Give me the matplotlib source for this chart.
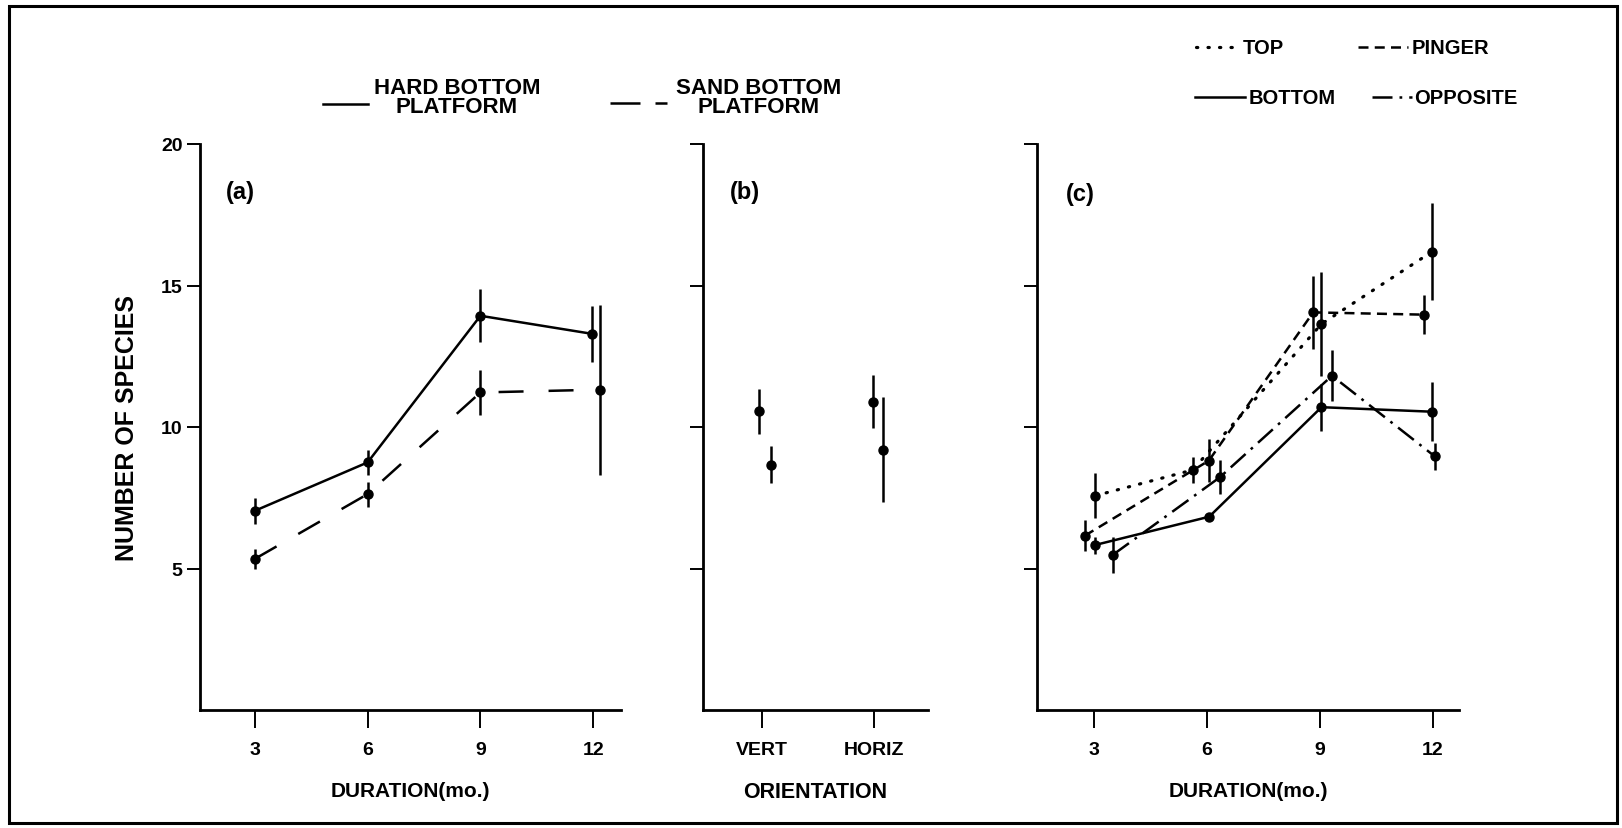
import matplotlib
matplotlib.use("Agg")
import matplotlib.pyplot as plt
from matplotlib.lines import Line2D
from matplotlib.patches import Rectangle

plt.rcParams["font.family"] = ["Liberation Sans", "DejaVu Sans"]
plt.rcParams["font.weight"] = "bold"

# (a) species count vs. duration on the two platforms
dur_ticks = [3, 6, 9, 12]
hard_x = [3.0, 6.0, 9.0, 11.98]
hard_y = [7.04, 8.75, 13.93, 13.29]
hard_err = [0.45, 0.45, 0.93, 1.0]
sand_x = [3.0, 6.0, 9.0, 12.18]
sand_y = [5.34, 7.63, 11.22, 11.32]
sand_err = [0.35, 0.44, 0.8, 3.0]

# (b) orientation
orient_labels = ["VERT", "HORIZ"]
orient_hard_x = [0.97, 1.99]
orient_hard_y = [10.55, 10.89]
orient_hard_err = [0.8, 0.94]
orient_sand_x = [1.08, 2.08]
orient_sand_y = [8.67, 9.2]
orient_sand_err = [0.65, 1.85]

# (c) position on the platform
top_x = [3.03, 5.62, 9.04, 11.98]
top_y = [7.57, 8.48, 13.64, 16.2]
top_err = [0.8, 0.45, 1.85, 1.7]
pinger_x = [2.76, 6.05, 8.82, 11.75]
pinger_y = [6.16, 8.81, 14.05, 13.97]
pinger_err = [0.55, 0.75, 1.3, 0.7]
bottom_x = [3.03, 6.06, 9.04, 11.98]
bottom_y = [5.83, 6.83, 10.7, 10.54]
bottom_err = [0.3, 0.12, 0.83, 1.04]
opp_x = [3.5, 6.34, 9.32, 12.05]
opp_y = [5.48, 8.22, 11.81, 8.96]
opp_err = [0.65, 0.6, 0.9, 0.47]

LW = 1.8
DOT = (0, (0.4, 3.2))
SHORT_DASH = (0, (4, 2.5))
LONG_DASH = (0, (10, 10))
DASH_DOT = (0, (8, 2.8, 1.1, 2.8))

W, H = 1622, 829
fig = plt.figure(figsize=(W / 100, H / 100), dpi=100)


def fx(px):
    return px / W


def fy(py):
    return 1 - py / H


def axes_at(x0, x1):
    return fig.add_axes([fx(x0), fy(711), fx(x1 - x0), fy(145) - fy(711)])


def style(ax):
    for s in ("top", "right"):
        ax.spines[s].set_visible(False)
    for s in ("left", "bottom"):
        ax.spines[s].set_linewidth(2.0)
    ax.set_ylim(0, 20)
    ax.set_yticks([5, 10, 15, 20])
    ax.tick_params(axis="x", direction="out", length=13, width=1.4, pad=9,
                   labelsize=14)
    ax.tick_params(axis="y", direction="out", length=9.5, width=1.4, pad=3,
                   labelsize=14)
    for lab in ax.get_xticklabels() + ax.get_yticklabels():
        lab.set_fontweight("bold")


def series(ax, x, y, err, ls=None, capstyle="butt", lw=LW):
    if ls is not None:
        ln, = ax.plot(x, y, color="black", lw=lw, ls=ls)
        ln.set_dash_capstyle(capstyle)
    ax.errorbar(x, y, yerr=err, fmt="o", ls="none", color="black", ms=6.5,
                elinewidth=1.8, capsize=0)


ax_a = axes_at(200, 621)
ax_b = axes_at(703, 928)
ax_c = axes_at(1037, 1459)

# (a)
series(ax_a, hard_x, hard_y, hard_err, "-")
series(ax_a, sand_x, sand_y, sand_err, LONG_DASH)
ax_a.set_xlim(1.54, 12.74)
ax_a.set_xticks(dur_ticks)
style(ax_a)
ax_a.set_xlabel("DURATION(mo.)", fontsize=15, fontweight="bold", labelpad=17)
ax_a.set_ylabel("NUMBER OF SPECIES", fontsize=18, fontweight="bold",
                labelpad=16)

# (b)
series(ax_b, orient_hard_x, orient_hard_y, orient_hard_err)
series(ax_b, orient_sand_x, orient_sand_y, orient_sand_err)
ax_b.set_xlim(0.47, 2.48)
ax_b.set_xticks([1, 2])
ax_b.set_xticklabels(orient_labels)
style(ax_b)
ax_b.set_yticklabels([])
ax_b.set_xlabel("ORIENTATION", fontsize=15.5, fontweight="bold", labelpad=17)

# (c)
series(ax_c, top_x, top_y, top_err, DOT, "round", lw=2.3)
series(ax_c, pinger_x, pinger_y, pinger_err, SHORT_DASH)
series(ax_c, bottom_x, bottom_y, bottom_err, "-")
series(ax_c, opp_x, opp_y, opp_err, DASH_DOT)
ax_c.set_xlim(1.49, 12.69)
ax_c.set_xticks(dur_ticks)
style(ax_c)
ax_c.set_yticklabels([])
ax_c.set_xlabel("DURATION(mo.)", fontsize=15, fontweight="bold", labelpad=17)

# panel letters
for label, px, py in (("(a)", 240, 193), ("(b)", 745, 192), ("(c)", 1080, 195)):
    fig.text(fx(px), fy(py), label, fontsize=17, fontweight="bold",
             ha="center", va="center")


def key(x0, x1, y, ls, capstyle="butt", lw=LW):
    ln = Line2D([fx(x0), fx(x1)], [fy(y), fy(y)], transform=fig.transFigure,
                color="black", lw=lw, ls=ls)
    ln.set_dash_capstyle(capstyle)
    fig.add_artist(ln)


# platform key above (a) and (b)
key(323, 368, 105, "-")
fig.text(fx(457), fy(98), "HARD BOTTOM\nPLATFORM", fontsize=16,
         fontweight="bold", ha="center", va="center", linespacing=0.92)
key(610, 667, 104, (0, (12, 6)))
fig.text(fx(759), fy(98), "SAND BOTTOM\nPLATFORM", fontsize=16,
         fontweight="bold", ha="center", va="center", linespacing=0.92)

# position key above (c)
key(1196, 1236, 48, DOT, "round", lw=2.3)
fig.text(fx(1243), fy(48), "TOP", fontsize=14.5, fontweight="bold",
         va="center")
key(1358, 1408, 48, SHORT_DASH)
fig.text(fx(1412), fy(48), "PINGER", fontsize=14.5, fontweight="bold",
         va="center")
key(1195, 1245, 98, "-")
fig.text(fx(1249), fy(98), "BOTTOM", fontsize=14.5, fontweight="bold",
         va="center")
key(1372, 1412, 98, DASH_DOT)
fig.text(fx(1414), fy(98), "OPPOSITE", fontsize=14.5, fontweight="bold",
         va="center")

# outer frame
fig.add_artist(Rectangle((fx(9), fy(824)), fx(1617 - 9), fy(7) - fy(824),
                         transform=fig.transFigure, fill=False,
                         edgecolor="black", lw=2.2))

fig.savefig("out.png", dpi=100, facecolor="white")
